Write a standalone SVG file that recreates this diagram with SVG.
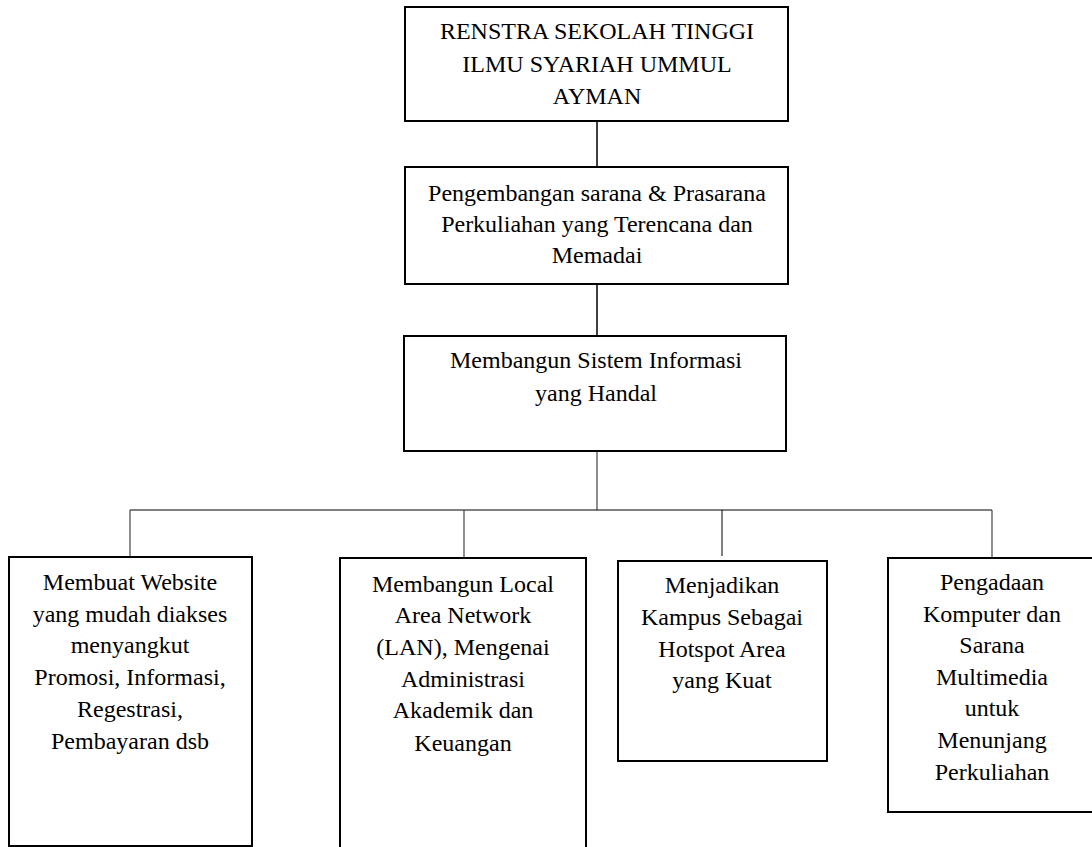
<svg xmlns="http://www.w3.org/2000/svg" width="1092" height="847" viewBox="0 0 1092 847">
<style>
.box{fill:#fff;stroke:#000;stroke-width:2}
.t{font-family:"Liberation Serif","Times New Roman",serif;font-size:24px;fill:#000;text-anchor:middle}
.c{stroke:#000;stroke-width:1.5;fill:none}
.d{stroke:#444;stroke-width:1.2;fill:none}
</style>
<rect width="1092" height="847" fill="#fff"/>
<g id="connectors">
<line class="c" x1="597" y1="122" x2="597" y2="167"/>
<line class="c" x1="597" y1="284" x2="597" y2="336"/>
<line class="d" x1="597" y1="451" x2="597" y2="510"/>
<line class="c" x1="130" y1="510" x2="992" y2="510" style="stroke-width:1"/>
<line class="d" x1="130" y1="510" x2="130" y2="557"/>
<line class="d" x1="464" y1="510" x2="464" y2="557"/>
<line class="c" x1="722" y1="510" x2="722" y2="556" style="stroke-width:1"/>
<line class="d" x1="992" y1="510" x2="992" y2="557"/>
</g>
<g id="n1">
<rect class="box" x="405" y="7" width="383" height="114"/>
<text class="t" x="597" y="39">RENSTRA SEKOLAH TINGGI</text>
<text class="t" x="597" y="72">ILMU SYARIAH UMMUL</text>
<text class="t" x="597" y="104">AYMAN</text>
</g>
<g id="n2">
<rect class="box" x="405" y="167" width="383" height="117"/>
<text class="t" x="597" y="201">Pengembangan sarana &amp; Prasarana</text>
<text class="t" x="597" y="232">Perkuliahan yang Terencana dan</text>
<text class="t" x="597" y="263">Memadai</text>
</g>
<g id="n3">
<rect class="box" x="404" y="336" width="382" height="115"/>
<text class="t" x="596" y="368">Membangun Sistem Informasi</text>
<text class="t" x="596" y="401">yang Handal</text>
</g>
<g id="n4">
<rect class="box" x="9" y="557" width="243" height="289"/>
<text class="t" x="130" y="590">Membuat Website</text>
<text class="t" x="130" y="622">yang mudah diakses</text>
<text class="t" x="130" y="653">menyangkut</text>
<text class="t" x="130" y="685">Promosi, Informasi,</text>
<text class="t" x="130" y="717">Regestrasi,</text>
<text class="t" x="130" y="749">Pembayaran dsb</text>
</g>
<g id="n5">
<rect class="box" x="340" y="558" width="246" height="292"/>
<text class="t" x="463" y="592">Membangun Local</text>
<text class="t" x="463" y="623">Area Network</text>
<text class="t" x="463" y="655">(LAN), Mengenai</text>
<text class="t" x="463" y="687">Administrasi</text>
<text class="t" x="463" y="718">Akademik dan</text>
<text class="t" x="463" y="751">Keuangan</text>
</g>
<g id="n6">
<rect class="box" x="618" y="561" width="209" height="200"/>
<text class="t" x="722" y="593">Menjadikan</text>
<text class="t" x="722" y="625">Kampus Sebagai</text>
<text class="t" x="722" y="657">Hotspot Area</text>
<text class="t" x="722" y="688">yang Kuat</text>
</g>
<g id="n7">
<rect class="box" x="888" y="558" width="208" height="254"/>
<text class="t" x="992" y="590">Pengadaan</text>
<text class="t" x="992" y="622">Komputer dan</text>
<text class="t" x="992" y="653">Sarana</text>
<text class="t" x="992" y="685">Multimedia</text>
<text class="t" x="992" y="716">untuk</text>
<text class="t" x="992" y="748">Menunjang</text>
<text class="t" x="992" y="780">Perkuliahan</text>
</g>
</svg>
